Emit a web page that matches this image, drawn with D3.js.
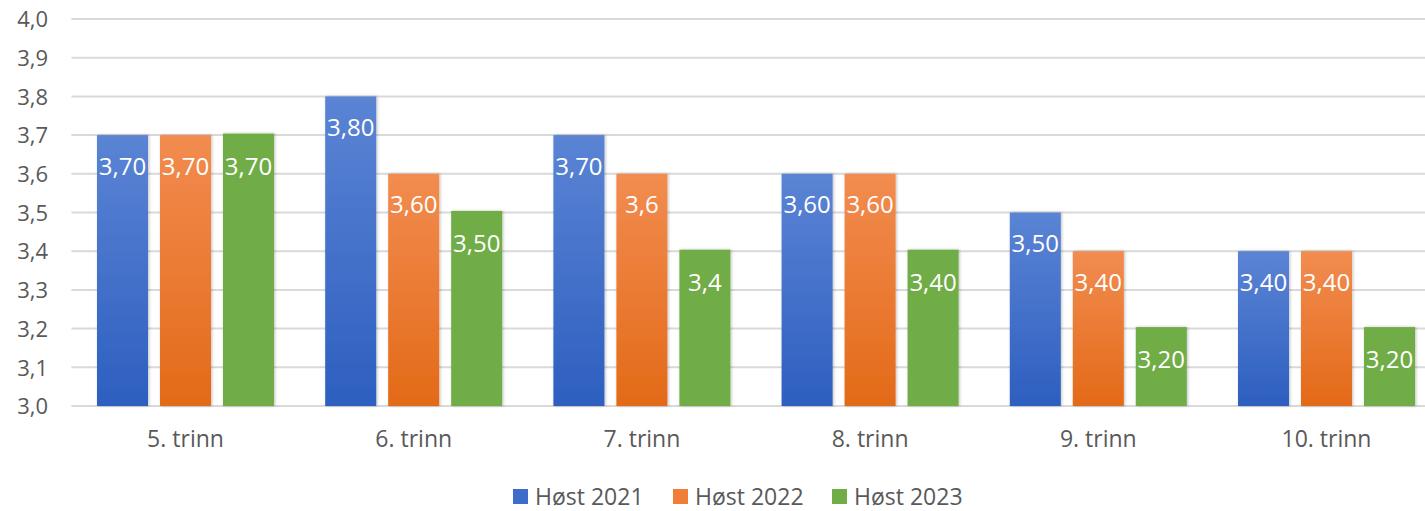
<!DOCTYPE html>
<html><head><meta charset="utf-8">
<script src="https://cdn.jsdelivr.net/npm/d3@7"></script>
<style>
html,body{margin:0;padding:0;background:#fff;overflow:hidden}
text{font-family:"Open Sans","Noto Sans",sans-serif}
</style></head>
<body>
<svg id="c" width="1425" height="511"></svg>
<script>
const categories = ["5. trinn","6. trinn","7. trinn","8. trinn","9. trinn","10. trinn"];
const seriesNames = ["Høst 2021","Høst 2022","Høst 2023"];
const host2021 = [3.70,3.80,3.70,3.60,3.50,3.40];
const host2022 = [3.70,3.60,3.60,3.60,3.40,3.40];
const host2023 = [3.70,3.50,3.40,3.40,3.20,3.20];
const labels2021 = ["3,70","3,80","3,70","3,60","3,50","3,40"];
const labels2022 = ["3,70","3,60","3,6","3,60","3,40","3,40"];
const labels2023 = ["3,70","3,50","3,4","3,40","3,20","3,20"];
const yTicks = [3.0,3.1,3.2,3.3,3.4,3.5,3.6,3.7,3.8,3.9,4.0];

const seriesVals = [host2021,host2022,host2023];
const seriesLabels = [labels2021,labels2022,labels2023];
const colors = [["#5b84d4","#2d5fc0"],["#f28c50","#e36a18"],["#70ad47","#70ad47"]];
const legendColors = ["#3e6cc9","#f07d38","#70ad47"];

const svg = d3.select("#c");
const defs = svg.append("defs");
colors.forEach((c,i)=>{
  const g = defs.append("linearGradient").attr("id","g"+i).attr("x1",0).attr("y1",0).attr("x2",0).attr("y2",1);
  g.append("stop").attr("offset","0%").attr("stop-color",c[0]);
  g.append("stop").attr("offset","100%").attr("stop-color",c[1]);
});
const f = defs.append("filter").attr("id","sh").attr("x","-20%").attr("y","-5%").attr("width","140%").attr("height","110%");
f.append("feDropShadow").attr("dx",1).attr("dy",0).attr("stdDeviation",1.5).attr("flood-color","#000").attr("flood-opacity",0.25);

const y = d3.scaleLinear().domain([3.0,4.0]).range([406,19]);
const x0 = d3.scaleBand().domain(categories).range([71.4,1440.6]).padding(0);
const x1 = d3.scaleBand().domain(seriesNames).range([25.6, x0.bandwidth()-25.6]).paddingInner(0.19).paddingOuter(0);

// grid
svg.append("g").selectAll("line").data(yTicks).join("line")
  .attr("x1",71.4).attr("x2",1440).attr("y1",d=>y(d)).attr("y2",d=>y(d))
  .attr("stroke","#d9d9d9").attr("stroke-width",2);

// y axis labels
const yAxis = d3.axisLeft(y).tickValues(yTicks).tickSize(0).tickPadding(0)
  .tickFormat(d=>d3.format(".1f")(d).replace(".",","));
const ya = svg.append("g").attr("transform","translate(48,0)").call(yAxis);
ya.select(".domain").remove();
ya.selectAll("text").attr("font-size",22).attr("fill","#595959").attr("dy","0.35em");

// x axis labels
const xAxis = d3.axisBottom(x0).tickSize(0).tickPadding(0);
const xa = svg.append("g").attr("transform","translate(0,431)").call(xAxis);
xa.select(".domain").remove();
xa.selectAll("text").attr("font-size",23).attr("fill","#595959").attr("dy","0.7em");

// bars
const data = [];
categories.forEach((c,ci)=>seriesNames.forEach((s,si)=>data.push({c,s,si,v:seriesVals[si][ci],l:seriesLabels[si][ci]})));
const bars = svg.append("g");
bars.selectAll("rect").data(data).join("rect")
  .attr("x",d=>x0(d.c)+x1(d.s)).attr("width",x1.bandwidth())
  .attr("y",d=>y(d.v)-(d.si===2?1.5:0)).attr("height",d=>y(3.0)-y(d.v)+(d.si===2?1.5:0))
  .attr("fill",d=>`url(#g${d.si})`).attr("filter","url(#sh)");
bars.selectAll("text").data(data).join("text")
  .attr("x",d=>x0(d.c)+x1(d.s)+x1.bandwidth()/2).attr("y",d=>y(d.v)+31)
  .attr("text-anchor","middle").attr("dy","0.35em")
  .attr("font-size",24).attr("fill","#fff").text(d=>d.l);

// legend
const legendX = [513,673,832];
const lg = svg.append("g").selectAll("g").data(seriesNames).join("g")
  .attr("transform",(d,i)=>`translate(${legendX[i]},497)`);
lg.append("rect").attr("x",0).attr("y",-8).attr("width",15).attr("height",15).attr("fill",(d,i)=>legendColors[i]);
lg.append("text").attr("x",22).attr("y",0).attr("dy","0.35em").attr("font-size",23).attr("fill","#595959").text(d=>d);
</script>
</body></html>
